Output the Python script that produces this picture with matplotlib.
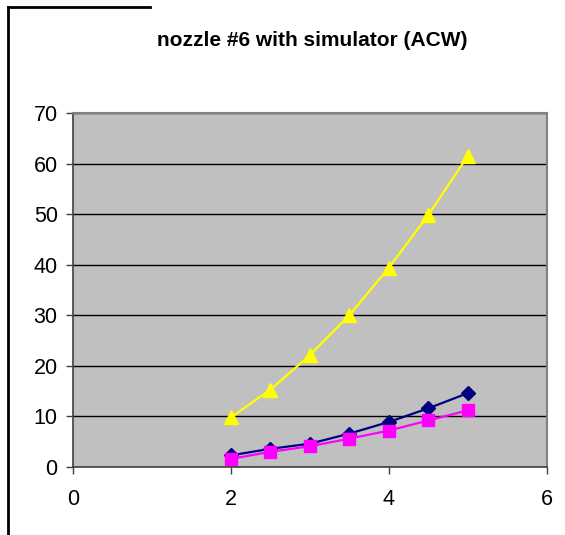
import matplotlib.pyplot as plt
from matplotlib.lines import Line2D

plt.rcParams['font.family'] = ['Liberation Sans', 'DejaVu Sans']

# data
x = [2, 2.5, 3, 3.5, 4, 4.5, 5]
navy = [2.3, 3.6, 4.6, 6.6, 8.9, 11.6, 14.6]
pink = [1.6, 3.0, 4.1, 5.6, 7.2, 9.2, 11.2]
yellow = [9.8, 15.3, 22.1, 30.0, 39.4, 49.8, 61.5]

xticks = [0, 2, 4, 6]
yticks = [0, 10, 20, 30, 40, 50, 60, 70]

fig = plt.figure(figsize=(5.65, 5.35), dpi=100)
ax = fig.add_axes([0.1292, 0.1271, 0.9676 - 0.1292, 0.7888 - 0.1271])
ax.set_facecolor('#C0C0C0')

ax.plot(x, navy, color='#000080', marker='D', markersize=7, linewidth=1.6)
ax.plot(x, pink, color='#FF00FF', marker='s', markersize=8, linewidth=1.6)
ax.plot(x, yellow, color='#FFFF00', marker='^', markersize=10, linewidth=1.6)

ax.set_xlim(0, 6)
ax.set_ylim(0, 70)
ax.set_xticks(xticks)
ax.set_yticks(yticks)
ax.yaxis.grid(True, color='black', linewidth=1)
ax.set_axisbelow(True)

for s in ['top', 'right']:
    ax.spines[s].set_color('#808080')
    ax.spines[s].set_linewidth(1.5)
for s in ['left', 'bottom']:
    ax.spines[s].set_color('#404040')
    ax.spines[s].set_linewidth(1.2)

ax.tick_params(axis='both', labelsize=15.5, length=5, width=1, color='#404040')
ax.tick_params(axis='x', pad=11)
ax.tick_params(axis='y', pad=6)

fig.text(0.553, 0.925, 'nozzle #6 with simulator (ACW)', ha='center', va='center',
         fontsize=15, fontweight='bold')

# partial chart frame
fig.add_artist(Line2D([8 / 565, 8 / 565], [0, 1 - 7 / 535], color='black', linewidth=2))
fig.add_artist(Line2D([8 / 565, 150 / 565], [1 - 7 / 535, 1 - 7 / 535], color='black', linewidth=2))

fig.savefig('out.png', dpi=100)
